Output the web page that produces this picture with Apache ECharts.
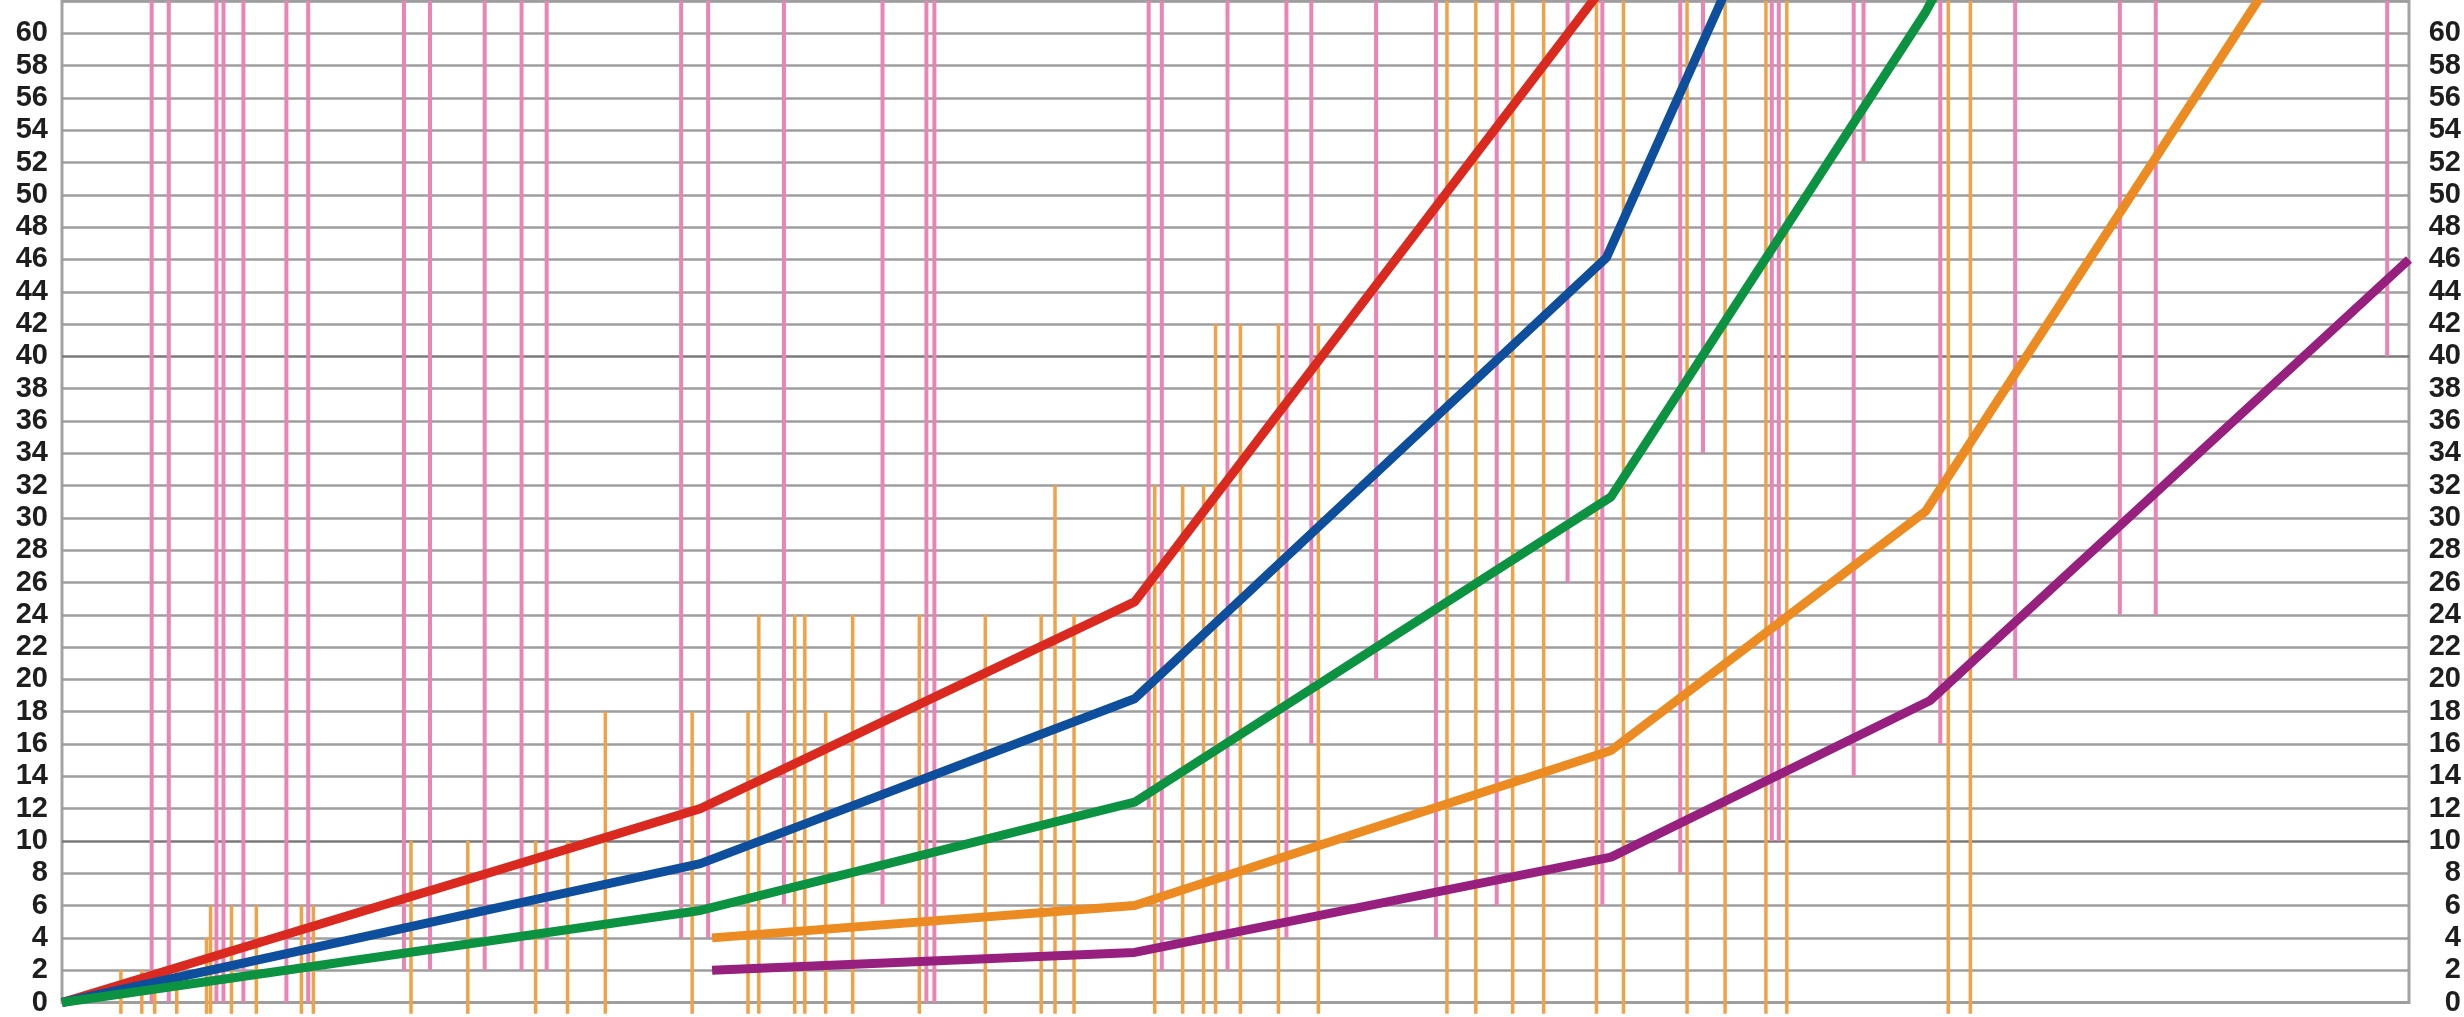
<!DOCTYPE html>
<html>
<head>
<meta charset="utf-8">
<script src="https://cdn.jsdelivr.net/npm/echarts@6/dist/echarts.min.js"></script>
<style>
html,body{margin:0;padding:0;background:#fff;}
#chart{width:2464px;height:1017px;}
</style>
</head>
<body>
<div id="chart"></div>
<script>
// ---- data (x in relative units 0..100 along the horizontal, y in chart units) ----
const redX    = [0, 27.2, 45.7, 65.9];
const redY    = [0, 12.0, 24.8, 63.3];
const blueX   = [0, 27.2, 45.7, 65.8, 71.1];
const blueY   = [0, 8.6, 18.8, 46.1, 63.3];
const greenX  = [0, 27.2, 45.7, 66.0, 79.4, 80.1];
const greenY  = [0, 5.7, 12.4, 31.3, 61.3, 63.2];
const orangeX = [27.7, 45.7, 66.0, 79.4, 94.0];
const orangeY = [4.0, 6.0, 15.6, 30.4, 63.0];
const purpleX = [27.7, 45.7, 66.0, 79.6, 100];
const purpleY = [2.0, 3.1, 9.0, 18.7, 46.0];

// pink rules hang from the top down to a value
const pinkX   = [3.82, 4.55, 6.58, 6.88, 7.73, 9.56, 10.49, 14.57, 15.68, 18.01, 19.58, 20.65,
                 26.38, 27.53, 30.76, 34.96, 36.83, 37.17, 46.30, 46.86, 49.66, 52.17, 53.23,
                 55.99, 58.54, 61.13, 64.15, 65.63, 68.95, 69.92, 72.85, 73.15, 76.34, 76.76,
                 80.03, 83.22, 87.68, 89.21, 99.07];
const pinkEnd = [0, 0, 0, 0, 0, 0, 0, 2, 2, 2, 2, 2,
                 4, 4, 6, 6, 0, 0, 12, 2, 2, 4, 16,
                 20, 4, 6, 26, 6, 8, 34, 10, 10, 14, 52,
                 16, 20, 24, 24, 40];

// orange rules rise from the bottom up to a value
const orangeRuleX   = [2.51, 3.40, 3.95, 4.89, 6.16, 6.33, 7.22, 8.28, 10.20, 10.71,
                       14.87, 17.29, 20.18, 21.54, 23.15, 26.85, 29.23, 29.69, 31.22, 31.65,
                       32.54, 33.69, 36.53, 39.34, 41.72, 42.31, 43.12, 46.56, 47.75, 48.64,
                       49.15, 50.21, 51.83, 53.53, 59.01, 60.24, 61.81, 63.13, 65.38, 66.53,
                       69.24, 70.86, 72.60, 73.49, 80.37, 81.31];
const orangeRuleTop = [2, 2, 2, 2, 4, 6, 6, 6, 6, 6,
                       10, 10, 10, 10, 18, 18, 18, 24, 24, 24,
                       18, 24, 24, 24, 24, 32, 24, 32, 32, 32,
                       42, 42, 42, 42, 62, 62, 62, 62, 62, 62,
                       62, 62, 62, 62, 62, 62];

const yMin = 0, yMax = 62, yStep = 2;
const ruleTop = 62, ruleBottom = -0.7;

// ---- build ----
function pairs(xs, ys){ return xs.map((x,i)=>[x, ys[i]]); }

const gridColors = [];
for (let v = yMin; v <= yMax; v += yStep) {
  gridColors.push((v === 10 || v === 40) ? '#7a7a7a' : '#9e9e9e');
}

const labelFont = {
  fontFamily: "'Liberation Sans', Arial, sans-serif",
  fontWeight: 'bold',
  fontSize: 29,
  color: '#1e1e1e'
};

function lineSeries(name, xs, ys, color){
  return {
    name, type: 'line', data: pairs(xs, ys), symbol: 'none',
    lineStyle: {color, width: 9}, z: 5, animation: false, clip: true
  };
}

const chart = echarts.init(document.getElementById('chart'), null, {renderer: 'canvas'});
chart.setOption({
  animation: false,
  backgroundColor: '#fff',
  grid: {left: 62, right: 47, top: 1, bottom: 10, show: true, borderColor: '#a3a3a3', borderWidth: 3, containLabel: false},
  xAxis: {type: 'value', min: 0, max: 100, show: false, splitLine: {show: false}},
  yAxis: [
    {type: 'value', min: yMin, max: yMax, interval: yStep, position: 'left',
     axisLine: {show: false}, axisTick: {show: false},
     axisLabel: Object.assign({margin: 14, showMaxLabel: false}, labelFont),
     splitLine: {show: true, lineStyle: {color: gridColors, width: 2.5}}},
    {type: 'value', min: yMin, max: yMax, interval: yStep, position: 'right',
     axisLine: {show: false}, axisTick: {show: false},
     axisLabel: Object.assign({margin: 52, align: 'right', showMaxLabel: false}, labelFont),
     splitLine: {show: false}}
  ],
  series: [
    {
      type: 'custom', name: 'pink', z: 2, clip: false,
      data: pairs(pinkX, pinkEnd),
      renderItem: function(params, api){
        const a = api.coord([api.value(0), ruleTop]);
        const b = api.coord([api.value(0), api.value(1)]);
        return {type: 'line', shape: {x1: a[0], y1: a[1], x2: b[0], y2: b[1]},
                style: {stroke: '#ea84b5', lineWidth: 4}};
      }
    },
    {
      type: 'custom', name: 'orangeRules', z: 3, clip: false,
      data: pairs(orangeRuleX, orangeRuleTop),
      renderItem: function(params, api){
        const a = api.coord([api.value(0), ruleBottom]);
        const b = api.coord([api.value(0), api.value(1)]);
        return {type: 'line', shape: {x1: a[0], y1: a[1], x2: b[0], y2: b[1]},
                style: {stroke: '#f1a246', lineWidth: 3.5}};
      }
    },
    lineSeries('red', redX, redY, '#da2a1f'),
    lineSeries('blue', blueX, blueY, '#0d4f9c'),
    lineSeries('green', greenX, greenY, '#0c9342'),
    lineSeries('orange', orangeX, orangeY, '#ec8b22'),
    lineSeries('purple', purpleX, purpleY, '#97207e')
  ]
});
</script>
</body>
</html>
